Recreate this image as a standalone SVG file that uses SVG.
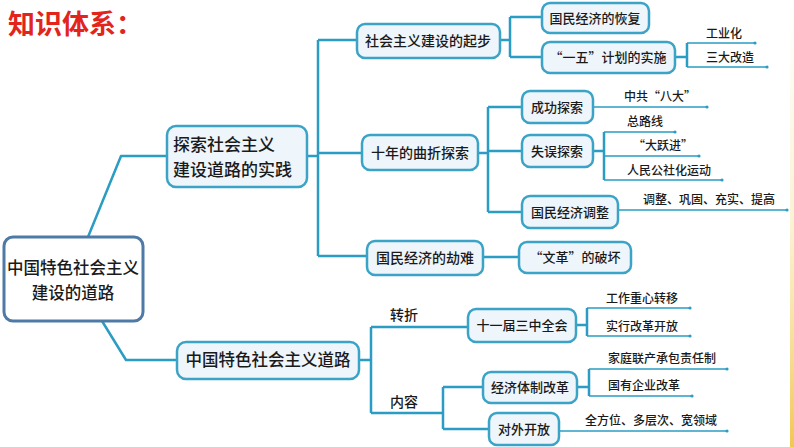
<svg xmlns="http://www.w3.org/2000/svg" width="794" height="447" viewBox="0 0 794 447">
<defs>
<linearGradient id="edge" x1="0" y1="0" x2="0" y2="1">
<stop offset="0" stop-color="#f7e9b0" stop-opacity="0"/>
<stop offset="0.5" stop-color="#f7e6a8" stop-opacity="0.5"/>
<stop offset="1" stop-color="#f0c040" stop-opacity="0.9"/>
</linearGradient>
<style>
text{font-family:"Noto Sans CJK SC","Noto Sans",sans-serif;fill:#1a1a1a;font-weight:500;}
.box{fill:#eef5fb;stroke:#3aa3c6;stroke-width:2.5;}
.root{fill:#ffffff;stroke:#4f7aa6;stroke-width:3;}
.c{fill:none;stroke:#2b9cc3;stroke-width:2.5;stroke-linejoin:round;}
.l{fill:none;stroke:#2b9cc3;stroke-width:1.6;}
.dot{fill:#2b9cc3;}
.t1{font-size:17px;}
.t2{font-size:14px;text-anchor:middle;}
.t3{font-size:13px;text-anchor:middle;}
.lf{font-size:12px;}
</style>
</defs>
<rect width="794" height="447" fill="#ffffff"/>
<rect x="790" y="0" width="4" height="447" fill="url(#edge)"/>
<text x="8" y="34" style="font-size:27px;font-weight:bold;fill:#e3241b;">知识体系：</text>

<g id="connectors">
<path class="c" d="M88,237 L121,156 L167,156"/>
<path class="c" d="M102,321 L126,360 L177,360"/>
<path class="c" d="M307,156 H318 M318,40 V256 M318,40 H357 M318,153 H362 M318,256 H367"/>
<path class="c" d="M500,40 H510 M510,17 V57 M510,17 H542 M510,57 H542"/>
<path class="c" d="M675,57 H687 M687,43 V67"/>
<path class="l" d="M687,43 H755 M687,67 H767"/>
<path class="c" d="M478,153 H488 M488,107 V212 M488,107 H522 M488,151 H522 M488,212 H522"/>
<path class="l" d="M593,107 H707"/>
<path class="c" d="M593,151 H604 M604,132 V180"/>
<path class="l" d="M604,132 H675 M604,156 H699 M604,180 H722"/>
<path class="l" d="M618,210 H787"/>
<path class="c" d="M483,257 H519"/>
<path class="c" d="M359,360 H371 M371,327 V413 M371,413 H443"/>
<path class="c" d="M371,327 H468"/>
<path class="c" d="M576,325 H587 M587,308 V336"/>
<path class="l" d="M587,308 H690 M587,336 H690"/>
<path class="c" d="M443,387 V429 M443,387 H483 M443,429 H489"/>
<path class="c" d="M577,387 H589 M589,369 V396"/>
<path class="l" d="M589,369 H727 M589,396 H692"/>
<path class="l" d="M559,431 H727"/>
<g class="dot">
<circle cx="755" cy="43" r="1.6"/><circle cx="767" cy="67" r="1.6"/>
<circle cx="707" cy="107" r="1.6"/><circle cx="675" cy="132" r="1.6"/>
<circle cx="699" cy="156" r="1.6"/><circle cx="722" cy="180" r="1.6"/>
<circle cx="787" cy="210" r="1.6"/><circle cx="690" cy="308" r="1.6"/>
<circle cx="690" cy="336" r="1.6"/><circle cx="727" cy="369" r="1.6"/>
<circle cx="692" cy="396" r="1.6"/><circle cx="727" cy="431" r="1.6"/>
</g>
</g>

<g id="root">
<rect class="root" x="4" y="237" width="139" height="84" rx="9"/>
<text x="73" y="274" style="font-size:16.5px;text-anchor:middle;">中国特色社会主义</text>
<text x="73" y="299" style="font-size:16.5px;text-anchor:middle;">建设的道路</text>
</g>

<g id="b1">
<rect class="box" x="167" y="126" width="140" height="61" rx="9"/>
<text class="t1" x="173" y="151">探索社会主义</text>
<text class="t1" x="173" y="176">建设道路的实践</text>
</g>

<g id="b2">
<rect class="box" x="177" y="342" width="182" height="37" rx="9"/>
<text x="268" y="366" style="font-size:16.5px;text-anchor:middle;">中国特色社会主义道路</text>
</g>

<g id="qibu">
<rect class="box" x="357" y="24" width="143" height="34" rx="8"/>
<text class="t2" x="428" y="46">社会主义建设的起步</text>
</g>
<g id="shinian">
<rect class="box" x="362" y="135" width="116" height="35" rx="8"/>
<text class="t2" x="420" y="158">十年的曲折探索</text>
</g>
<g id="jienan">
<rect class="box" x="367" y="241" width="116" height="34" rx="8"/>
<text class="t2" x="425" y="263">国民经济的劫难</text>
</g>
<g id="huifu">
<rect class="box" x="542" y="3" width="107" height="30" rx="8"/>
<text class="t3" x="595" y="23">国民经济的恢复</text>
</g>
<g id="yiwu">
<rect class="box" x="542" y="42" width="133" height="31" rx="8"/>
<text class="t3" x="608" y="62">“一五”计划的实施</text>
</g>
<g id="leaf-gongyehua"><text class="lf" x="706" y="38">工业化</text></g>
<g id="leaf-sanda"><text class="lf" x="706" y="62">三大改造</text></g>

<g id="chenggong">
<rect class="box" x="522" y="91" width="71" height="32" rx="8"/>
<text class="t3" x="557" y="112">成功探索</text>
</g>
<g id="shiwu">
<rect class="box" x="522" y="135" width="71" height="32" rx="8"/>
<text class="t3" x="557" y="156">失误探索</text>
</g>
<g id="tiaozheng">
<rect class="box" x="522" y="196" width="96" height="32" rx="8"/>
<text class="t3" x="570" y="217">国民经济调整</text>
</g>
<g id="leaf-bada"><text class="lf" x="624" y="101">中共“八大”</text></g>
<g id="leaf-zongluxian"><text class="lf" x="627" y="126">总路线</text></g>
<g id="leaf-dayuejin"><text class="lf" x="633" y="150">“大跃进”</text></g>
<g id="leaf-renmin"><text class="lf" x="627" y="175">人民公社化运动</text></g>
<g id="leaf-tiaozheng"><text class="lf" x="643" y="204">调整、巩固、充实、提高</text></g>

<g id="wenge">
<rect class="box" x="519" y="242" width="112" height="31" rx="8"/>
<text class="t3" x="575" y="262">“文革”的破坏</text>
</g>

<g id="label-zhuanzhe"><text x="390" y="320" style="font-size:14px;">转折</text></g>
<g id="label-neirong"><text x="390" y="407" style="font-size:14px;">内容</text></g>

<g id="sanzhong">
<rect class="box" x="468" y="309" width="108" height="33" rx="8"/>
<text class="t3" x="522" y="330">十一届三中全会</text>
</g>
<g id="leaf-gongzuo"><text class="lf" x="606" y="303">工作重心转移</text></g>
<g id="leaf-shixing"><text class="lf" x="606" y="331">实行改革开放</text></g>

<g id="jingji">
<rect class="box" x="483" y="372" width="94" height="31" rx="8"/>
<text class="t3" x="530" y="392">经济体制改革</text>
</g>
<g id="duiwai">
<rect class="box" x="489" y="413" width="70" height="32" rx="8"/>
<text class="t3" x="524" y="434">对外开放</text>
</g>
<g id="leaf-jiating"><text class="lf" x="608" y="363">家庭联产承包责任制</text></g>
<g id="leaf-guoyou"><text class="lf" x="608" y="390">国有企业改革</text></g>
<g id="leaf-quanfangwei"><text class="lf" x="585" y="425">全方位、多层次、宽领域</text></g>
</svg>
